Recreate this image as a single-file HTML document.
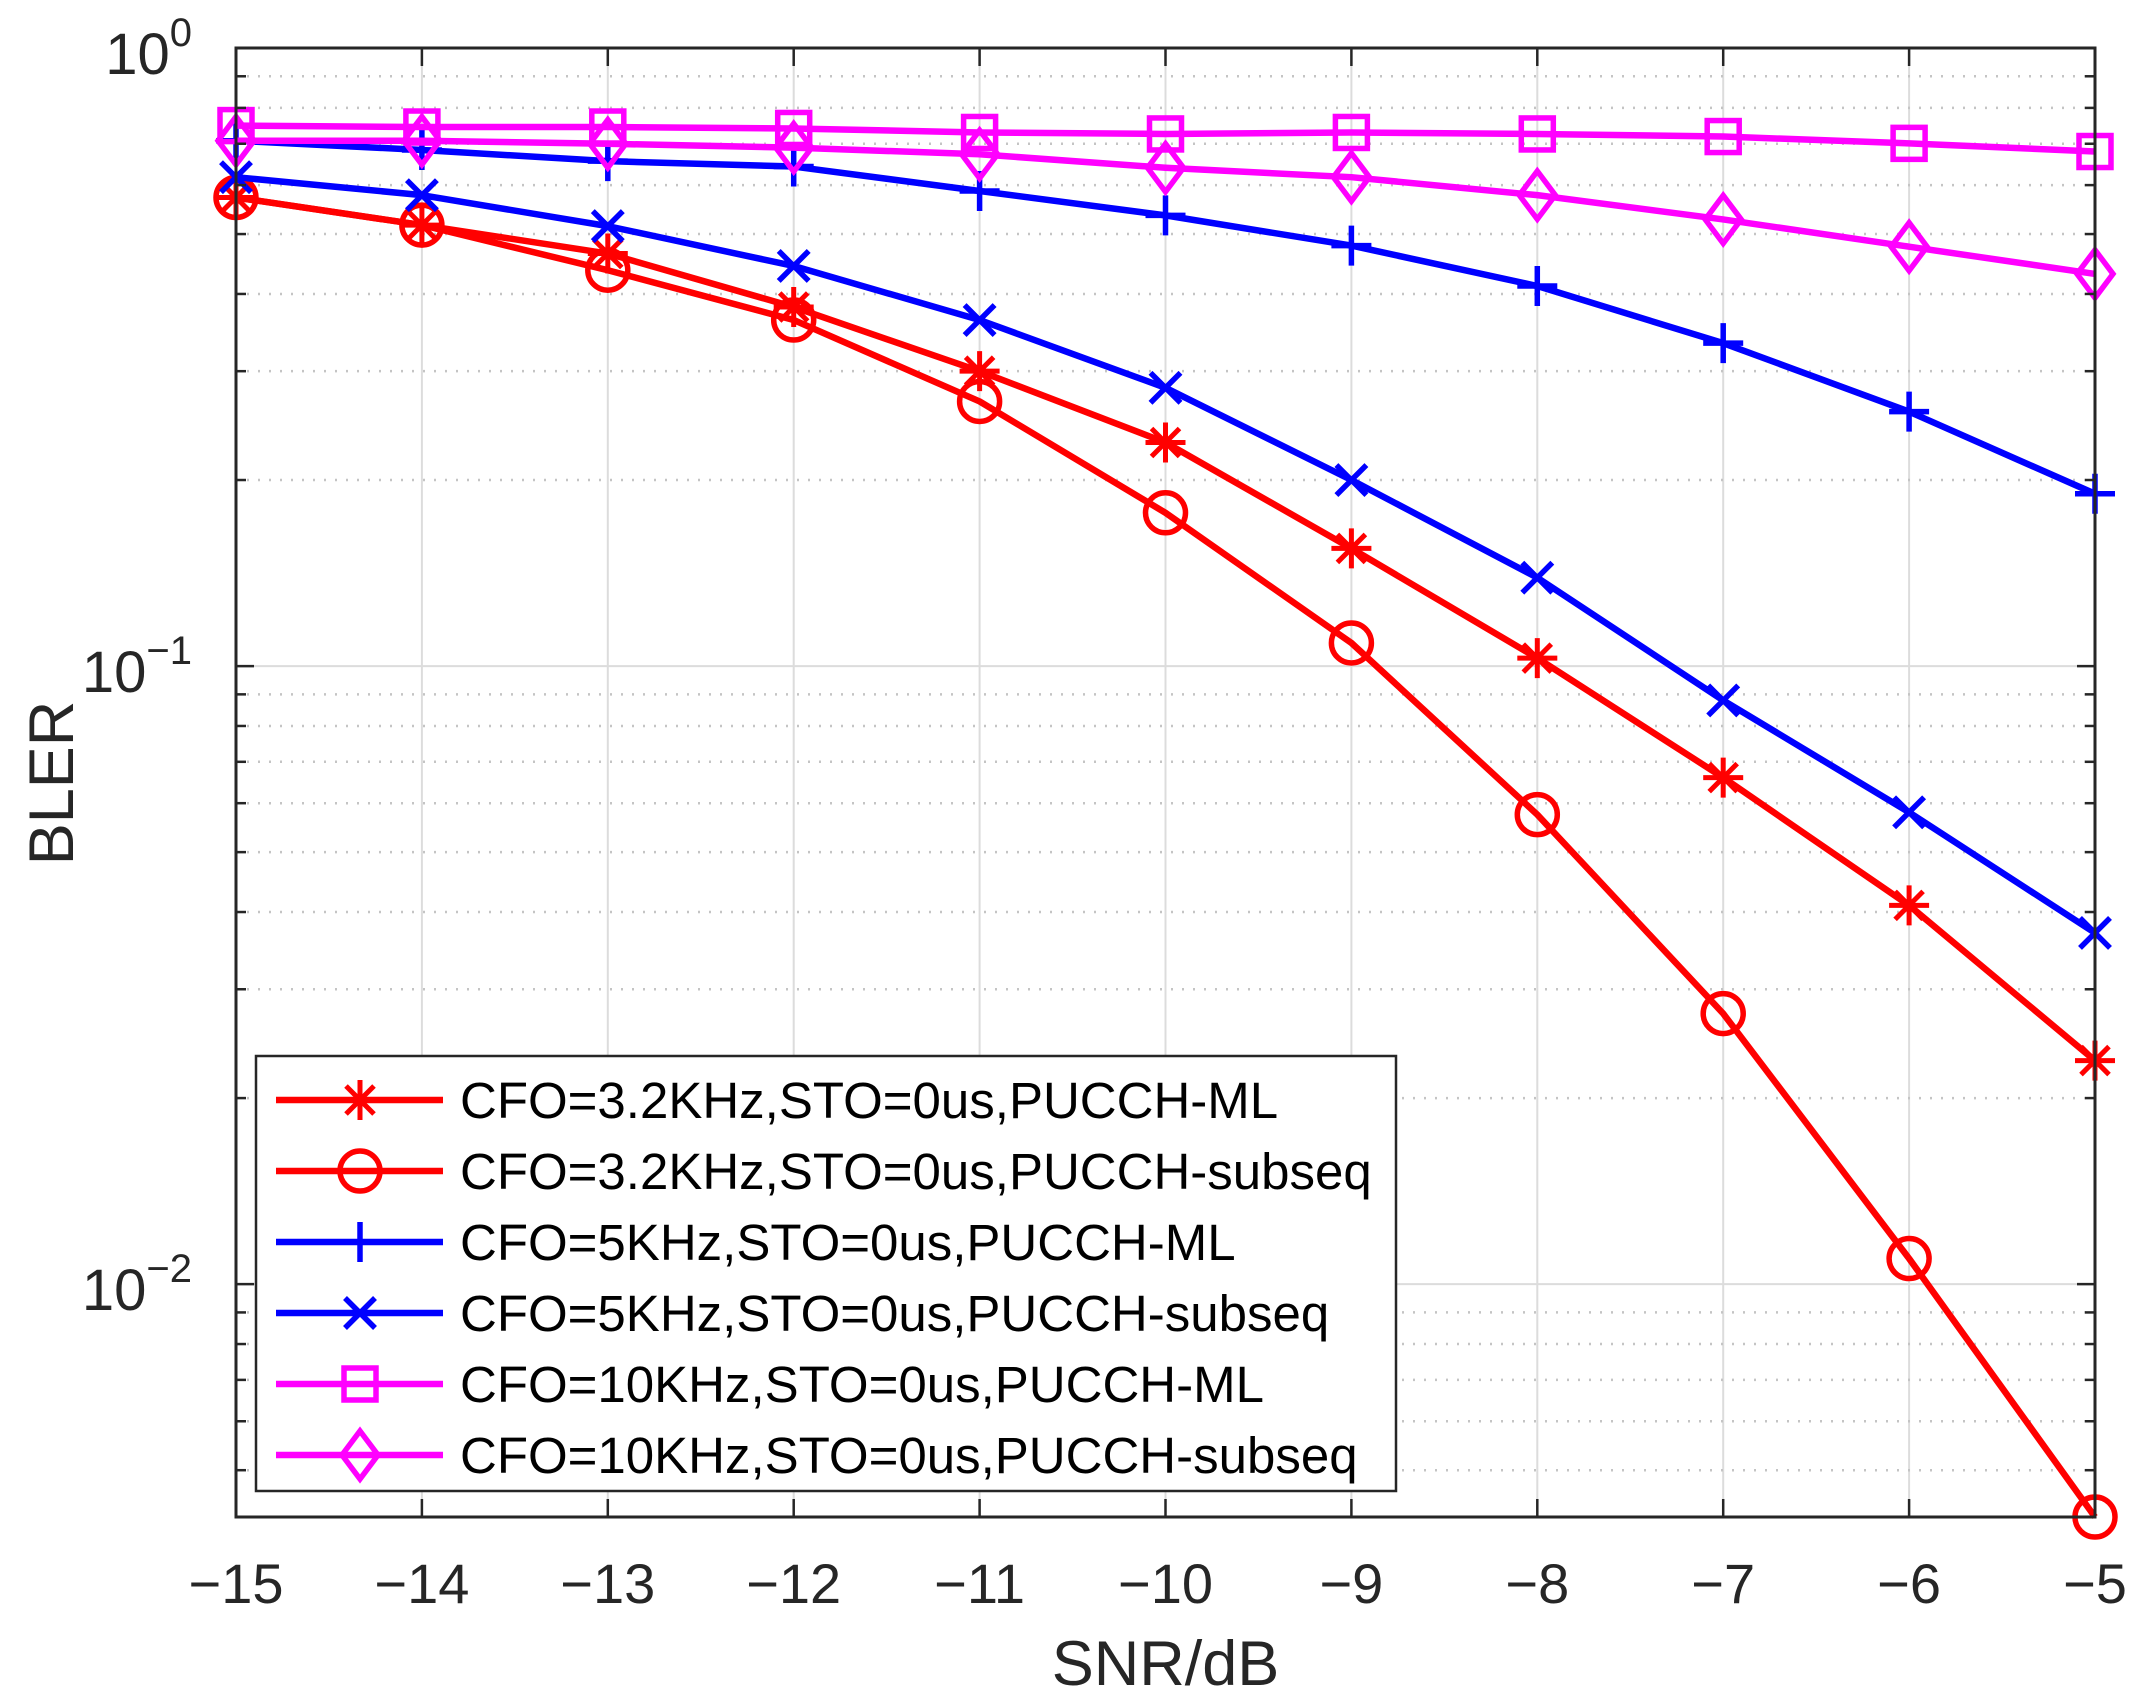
<!DOCTYPE html>
<html><head><meta charset="utf-8"><style>body{margin:0;background:#fff}svg{display:block}</style></head>
<body>
<svg id="chart" width="2136" height="1703" viewBox="0 0 2136 1703" xmlns="http://www.w3.org/2000/svg" font-family="'Liberation Sans', sans-serif">
<g id="grid"></g>
<g id="series"></g>
<g id="axes"></g>
<g id="legend"></g>
</svg>
<script>
const snr = [-15,-14,-13,-12,-11,-10,-9,-8,-7,-6,-5];
const cfo32ML = [0.573,0.517,0.465,0.381,0.30,0.23,0.155,0.103,0.066,0.041,0.023];
const cfo32Sub = [0.573,0.517,0.437,0.363,0.268,0.177,0.109,0.0575,0.0274,0.0110,0.0042];
const cfo5ML = [0.708,0.684,0.656,0.643,0.587,0.536,0.479,0.412,0.333,0.258,0.19];
const cfo5Sub = [0.618,0.578,0.515,0.444,0.363,0.282,0.2,0.139,0.088,0.058,0.037];
const cfo10ML = [0.749,0.745,0.745,0.741,0.73,0.726,0.73,0.726,0.719,0.701,0.68];
const cfo10Sub = [0.708,0.708,0.70,0.69,0.673,0.64,0.618,0.578,0.528,0.477,0.431];
const xTicks = [-15,-14,-13,-12,-11,-10,-9,-8,-7,-6,-5];
const yDecades = [0,-1,-2];
const legendLabels = ["CFO=3.2KHz,STO=0us,PUCCH-ML","CFO=3.2KHz,STO=0us,PUCCH-subseq","CFO=5KHz,STO=0us,PUCCH-ML","CFO=5KHz,STO=0us,PUCCH-subseq","CFO=10KHz,STO=0us,PUCCH-ML","CFO=10KHz,STO=0us,PUCCH-subseq"];

const L=236,R=2095,T=48,B=1517;
const yMinLog=Math.log10(0.0042), yMaxLog=0;
const X=v=>L+(v+15)/10*(R-L);
const Y=v=>T+(yMaxLog-Math.log10(v))/(yMaxLog-yMinLog)*(B-T);
const NS="http://www.w3.org/2000/svg";
function mk(tag,attrs,parent){const e=document.createElementNS(NS,tag);for(const k in attrs)e.setAttribute(k,attrs[k]);parent.appendChild(e);return e;}
const grid=document.getElementById('grid'),axes=document.getElementById('axes'),ser=document.getElementById('series'),leg=document.getElementById('legend');

xTicks.forEach(t=>{const l=mk('line',{x1:X(t),x2:X(t),y1:T,y2:B,stroke:'#dcdcdc','stroke-width':2},grid);

});
for(let d=-3;d<=0;d++){for(let m=1;m<=9;m++){const v=m*Math.pow(10,d);if(v<0.0042||v>1)continue;const y=Y(v);
const l=mk('line',{x1:L,x2:R,y1:y,y2:y,stroke:m===1?'#dcdcdc':'#c4c4c4','stroke-width':m===1?2:2.5,'stroke-dasharray':m===1?'none':'2 9'},grid);


const t1=mk('line',{x1:L,x2:L+(m===1?18:10),y1:y,y2:y,stroke:'#262626','stroke-width':2.5},axes);


const t2=mk('line',{x1:R,x2:R-(m===1?18:10),y1:y,y2:y,stroke:'#262626','stroke-width':2.5},axes);

}}

const box=mk('rect',{x:L,y:T,width:R-L,height:B-T,fill:'none',stroke:'#262626','stroke-width':3},axes);


xTicks.forEach(t=>{
const a=mk('line',{x1:X(t),x2:X(t),y1:B,y2:B-18,stroke:'#262626','stroke-width':2.5},axes);


const b=mk('line',{x1:X(t),x2:X(t),y1:T,y2:T+18,stroke:'#262626','stroke-width':2.5},axes);


const tx=mk('text',{x:X(t),y:1603,'text-anchor':'middle','font-size':56,fill:'#262626'},axes);tx.textContent='\u2212'+Math.abs(t);

});
yDecades.forEach(d=>{const y=Y(Math.pow(10,d));
const tx=mk('text',{x:192,y:y+26,'text-anchor':'end','font-size':58,fill:'#262626'},axes);
tx.innerHTML='10<tspan dy="-28" font-size="40">'+(d===0?'0':'\u2212'+Math.abs(d))+'</tspan>';

});
const xt=mk('text',{x:(L+R)/2,y:1685,'text-anchor':'middle','font-size':63,fill:'#262626'},axes);xt.textContent='SNR/dB';


const yt=mk('text',{x:0,y:0,'text-anchor':'middle','font-size':63,fill:'#262626',transform:'translate(73,783) rotate(-90)'},axes);yt.textContent='BLER';



function marker(type,x,y,c,parent){const s=20;let e;
if(type==='star'){e=mk('path',{d:`M${x-s} ${y}H${x+s}M${x} ${y-s}V${y+s}M${x-14} ${y-14}L${x+14} ${y+14}M${x-14} ${y+14}L${x+14} ${y-14}`,stroke:c,'stroke-width':5,fill:'none'},parent);}
else if(type==='circle'){e=mk('circle',{cx:x,cy:y,r:20,stroke:c,'stroke-width':5.5,fill:'none'},parent);}
else if(type==='plus'){e=mk('path',{d:`M${x-s} ${y}H${x+s}M${x} ${y-s}V${y+s}`,stroke:c,'stroke-width':5.5,fill:'none'},parent);}
else if(type==='x'){e=mk('path',{d:`M${x-15} ${y-15}L${x+15} ${y+15}M${x-15} ${y+15}L${x+15} ${y-15}`,stroke:c,'stroke-width':5.5,fill:'none'},parent);}
else if(type==='square'){e=mk('rect',{x:x-16,y:y-16,width:32,height:32,stroke:c,'stroke-width':5.5,fill:'none'},parent);}
else {e=mk('path',{d:`M${x} ${y-24}L${x+18} ${y}L${x} ${y+24}L${x-18} ${y}Z`,stroke:c,'stroke-width':5.5,fill:'none'},parent);}
return e;}

const seriesList=[[cfo32ML,'#ff0000','star'],[cfo32Sub,'#ff0000','circle'],[cfo5ML,'#0000ff','plus'],[cfo5Sub,'#0000ff','x'],[cfo10ML,'#ff00ff','square'],[cfo10Sub,'#ff00ff','diamond']];
seriesList.forEach((s,i)=>{const g=mk('g',{},ser);


const pts=snr.map((x,j)=>X(x)+','+Y(s[0][j])).join(' ');
const pl=mk('polyline',{points:pts,fill:'none',stroke:s[1],'stroke-width':6.5,'stroke-linejoin':'round'},g);


snr.forEach((x,j)=>{const m=marker(s[2],X(x),Y(s[0][j]),s[1],g);

});});

const lb=mk('rect',{x:256,y:1056,width:1140,height:435,fill:'#fff',stroke:'#262626','stroke-width':2.5},leg);


seriesList.forEach((s,i)=>{const y=1100+i*71;const g=mk('g',{},leg);


mk('line',{x1:276,x2:443,y1:y,y2:y,stroke:s[1],'stroke-width':6.5},g);
marker(s[2],360,y,s[1],g);
const t=mk('text',{x:460,y:y+18,'font-size':51,fill:'#000'},g);t.textContent=legendLabels[i];});
</script>
</body></html>
